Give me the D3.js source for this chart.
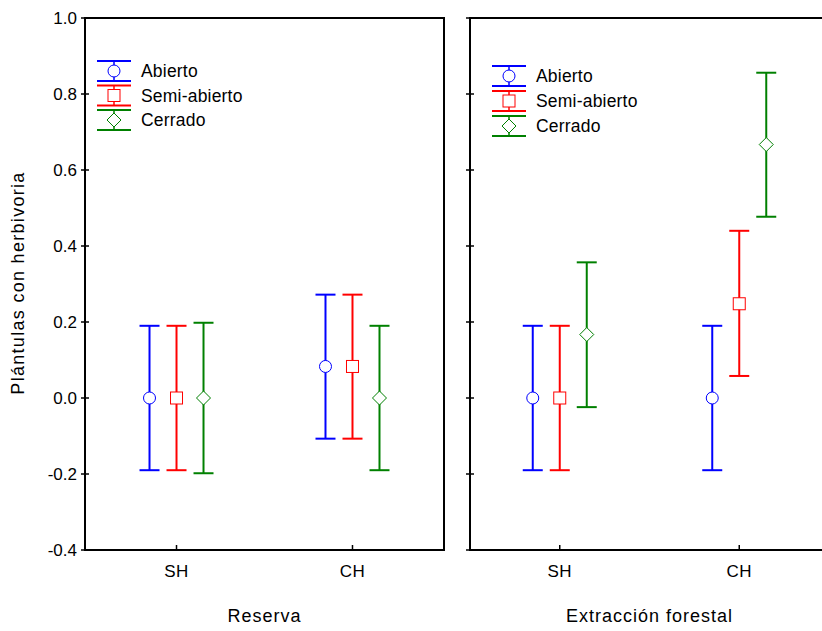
<!DOCTYPE html>
<html>
<head>
<meta charset="utf-8">
<script src="https://cdn.jsdelivr.net/npm/d3@7"></script>
<style>
  body { margin: 0; background: #fff; }
  text { font-family: "Liberation Sans", Arial, sans-serif; fill: #000; }
</style>
</head>
<body>
<svg width="822" height="631"></svg>
<script>
// categories and series
var groups = ["SH", "CH"]
var series = ["Abierto", "Semi-abierto", "Cerrado"]
var colors = ["#0000ff", "#ff0000", "#008000"]
var yTicks = [-0.4, -0.2, 0.0, 0.2, 0.4, 0.6, 0.8, 1.0]

// rows = series, cols = groups
var reservaMean = [[0, 0.083], [0, 0.083], [0, 0]]
var reservaLow = [[-0.19, -0.107], [-0.19, -0.107], [-0.198, -0.19]]
var reservaHigh = [[0.19, 0.272], [0.19, 0.272], [0.198, 0.19]]

var extraccionMean = [[0, 0], [0, 0.248], [0.167, 0.667]]
var extraccionLow = [[-0.19, -0.19], [-0.19, 0.058], [-0.024, 0.477]]
var extraccionHigh = [[0.19, 0.19], [0.19, 0.44], [0.357, 0.856]]

var svg = d3.select("svg")
var plotTop = 18, plotBottom = 550, panelW = 359

var y = d3.scaleLinear().domain([-0.4, 1.0]).range([plotBottom, plotTop])
var offset = d3.scalePoint().domain(series).range([-27, 27])

function marker(g, i, cx, cy) {
  var c = colors[i]
  if (i == 0) {
    g.append("circle").attr("cx", cx).attr("cy", cy).attr("r", 6)
      .attr("fill", "#fff").attr("stroke", c).attr("stroke-width", 1)
  } else if (i == 1) {
    g.append("rect").attr("x", cx - 6).attr("y", cy - 6).attr("width", 12).attr("height", 12)
      .attr("fill", "#fff").attr("stroke", c).attr("stroke-width", 1)
  } else {
    g.append("path").attr("d", "M" + cx + "," + (cy - 7) + "L" + (cx + 7) + "," + cy +
        "L" + cx + "," + (cy + 7) + "L" + (cx - 7) + "," + cy + "Z")
      .attr("fill", "#fff").attr("stroke", c).attr("stroke-width", 1)
  }
}

function drawPanel(x0, padL, means, lows, highs, title, legend, closed) {
  var g = svg.append("g")
  var x = d3.scalePoint().domain(groups).range([x0, x0 + panelW]).padding(padL)

  // frame (right panel runs off the edge)
  if (closed) {
    g.append("rect").attr("x", x0).attr("y", plotTop).attr("width", panelW).attr("height", plotBottom - plotTop)
      .attr("fill", "none").attr("stroke", "#000").attr("stroke-width", 2)
  } else {
    g.append("path").attr("d", "M830," + plotTop + "H" + x0 + "V" + plotBottom + "H830")
      .attr("fill", "none").attr("stroke", "#000").attr("stroke-width", 2)
  }

  // y ticks crossing the left edge
  g.selectAll(".yt").data(yTicks).enter().append("line")
    .attr("x1", x0 - 4).attr("x2", x0 + 4)
    .attr("y1", d => y(d)).attr("y2", d => y(d))
    .attr("stroke", "#000").attr("stroke-width", 1.5)

  // x ticks and labels
  groups.forEach(function (gr) {
    g.append("line").attr("x1", x(gr)).attr("x2", x(gr)).attr("y1", plotBottom - 5).attr("y2", plotBottom)
      .attr("stroke", "#000").attr("stroke-width", 1.5)
    g.append("text").attr("x", x(gr)).attr("y", 577).attr("text-anchor", "middle")
      .attr("font-size", 17).attr("letter-spacing", 0.5).text(gr)
  })
  g.append("text").attr("x", x0 + panelW / 2).attr("y", 622).attr("text-anchor", "middle")
    .attr("font-size", 18).attr("letter-spacing", 1).text(title)

  // error bars
  series.forEach(function (s, i) {
    groups.forEach(function (gr, j) {
      var cx = x(gr) + offset(s)
      var c = colors[i]
      g.append("line").attr("x1", cx).attr("x2", cx).attr("y1", y(highs[i][j])).attr("y2", y(lows[i][j]))
        .attr("stroke", c).attr("stroke-width", 2)
      ;[highs[i][j], lows[i][j]].forEach(function (v) {
        g.append("line").attr("x1", cx - 10).attr("x2", cx + 10).attr("y1", y(v)).attr("y2", y(v))
          .attr("stroke", c).attr("stroke-width", 2)
      })
      marker(g, i, cx, y(means[i][j]))
    })
  })

  // legend
  series.forEach(function (s, i) {
    var cy = legend.y + i * legend.step
    var cx = legend.x + 17
    var c = colors[i]
    g.append("line").attr("x1", cx).attr("x2", cx).attr("y1", cy - 10).attr("y2", cy + 10)
      .attr("stroke", c).attr("stroke-width", 1.5)
    ;[cy - 10, cy + 10].forEach(function (yy) {
      g.append("line").attr("x1", legend.x).attr("x2", legend.x + 34).attr("y1", yy).attr("y2", yy)
        .attr("stroke", c).attr("stroke-width", 2)
    })
    marker(g, i, cx, cy)
    g.append("text").attr("x", legend.x + 44).attr("y", cy + 6).attr("font-size", 17.5)
      .attr("letter-spacing", 0.2).text(s)
  })
}

drawPanel(85, 0.52, reservaMean, reservaLow, reservaHigh, "Reserva", {x: 97, y: 71, step: 24.5}, true)
drawPanel(470, 0.5, extraccionMean, extraccionLow, extraccionHigh, "Extracción forestal", {x: 492, y: 76, step: 25}, false)

// y axis labels
svg.selectAll(".yl").data(yTicks).enter().append("text")
  .attr("x", 77).attr("y", d => y(d) + 6).attr("text-anchor", "end")
  .attr("font-size", 17).text(d => d.toFixed(1))

svg.append("text").attr("transform", "translate(24,283) rotate(-90)")
  .attr("text-anchor", "middle").attr("font-size", 18).attr("letter-spacing", 1.3)
  .text("Plántulas con herbivoria")
</script>
</body>
</html>
